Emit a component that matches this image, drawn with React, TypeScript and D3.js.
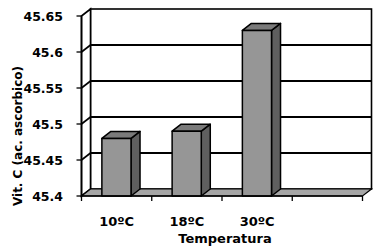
import React from "react";
import * as d3 from "d3";

const categories = ["10ºC", "18ºC", "30ºC", ""];
const values = [45.48, 45.49, 45.63, null];
const yTicks = [45.4, 45.45, 45.5, 45.55, 45.6, 45.65];
const yTickLabels = ["45.4", "45.45", "45.5", "45.55", "45.6", "45.65"];
const xTitle = "Temperatura";
const yTitle = "Vit. C (ac. ascorbico)";

export default function App() {
  const W = 378, H = 249;
  const DX = 9, DY = -7;
  const x = d3.scaleBand<string>().domain(categories.map((c, i) => String(i))).range([81.5, 362.5]);
  const y = d3.scaleLinear().domain([45.4, 45.65]).range([196, 16]);
  const y0 = y(45.4), yTop = y(45.65);
  const x0 = 81.5, x1 = 362.5;
  const font = "'DejaVu Sans', Verdana, sans-serif";
  const bw = x.bandwidth();
  const faceOff = bw * 0.29, faceW = bw * 0.415;
  const sw = 1.6;
  return (
    <svg width={W} height={H} style={{ position: "absolute", left: 0, top: 0 }}>
      {/* back wall */}
      <rect x={x0 + DX} y={yTop + DY} width={x1 - x0} height={y0 - yTop} fill="#fff" stroke="#000" strokeWidth={sw} />
      {/* side wall */}
      <polygon points={`${x0},${yTop} ${x0 + DX},${yTop + DY} ${x0 + DX},${y0 + DY} ${x0},${y0}`} fill="#fff" stroke="#000" strokeWidth={sw} />
      {/* gridlines */}
      {yTicks.slice(1, -1).map((v, i) => (
        <g key={i}>
          <line x1={x0 + DX} x2={x1 + DX} y1={y(v) + DY} y2={y(v) + DY} stroke="#000" strokeWidth={2} />
          <line x1={x0} x2={x0 + DX} y1={y(v)} y2={y(v) + DY} stroke="#000" strokeWidth={sw} />
        </g>
      ))}
      {/* floor */}
      <polygon points={`${x0},${y0} ${x1},${y0} ${x1 + DX},${y0 + DY} ${x0 + DX},${y0 + DY}`} fill="#a6a6a6" stroke="#000" strokeWidth={1.2} />
      {/* bars */}
      {values.map((v, i) => {
        if (v == null) return null;
        const bx = (x(String(i)) as number) + faceOff;
        const by = y(v);
        return (
          <g key={i} stroke="#000" strokeWidth={1.5} strokeLinejoin="round">
            <polygon points={`${bx + faceW},${by} ${bx + faceW + DX},${by + DY} ${bx + faceW + DX},${y0 + DY} ${bx + faceW},${y0}`} fill="#5f5f5f" />
            <polygon points={`${bx},${by} ${bx + DX},${by + DY} ${bx + faceW + DX},${by + DY} ${bx + faceW},${by}`} fill="#7a7a7a" />
            <rect x={bx} y={by} width={faceW} height={y0 - by} fill="#969696" />
          </g>
        );
      })}
      {/* y axis */}
      <line x1={x0} x2={x0} y1={yTop} y2={y0} stroke="#000" strokeWidth={sw} />
      {yTicks.map((v, i) => (
        <g key={i}>
          <line x1={x0 - 5} x2={x0} y1={y(v)} y2={y(v)} stroke="#000" strokeWidth={1.3} />
          <text x={63} y={y(v)} dy="0.36em" textAnchor="end" fontFamily={font} fontWeight="bold" fontSize={12.5} fill="#000">{yTickLabels[i]}</text>
        </g>
      ))}
      {/* x axis */}
      <line x1={x0} x2={x1} y1={y0} y2={y0} stroke="#000" strokeWidth={1.3} />
      {categories.map((c, i) => (
        <line key={"t" + i} x1={x(String(i)) as number} x2={x(String(i)) as number} y1={y0} y2={y0 + 5} stroke="#000" strokeWidth={1.3} />
      ))}
      <line x1={x1} x2={x1} y1={y0} y2={y0 + 5} stroke="#000" strokeWidth={1.3} />
      {categories.map((c, i) => (
        <text key={"l" + i} x={(x(String(i)) as number) + bw / 2} y={226} textAnchor="middle" fontFamily={font} fontWeight="bold" fontSize={13} fill="#000">{c}</text>
      ))}
      <text x={225} y={243} textAnchor="middle" fontFamily={font} fontWeight="bold" fontSize={13} fill="#000">{xTitle}</text>
      <text transform="translate(22,136) rotate(-90)" textAnchor="middle" fontFamily={font} fontWeight="bold" fontSize={12} fill="#000">{yTitle}</text>
    </svg>
  );
}
